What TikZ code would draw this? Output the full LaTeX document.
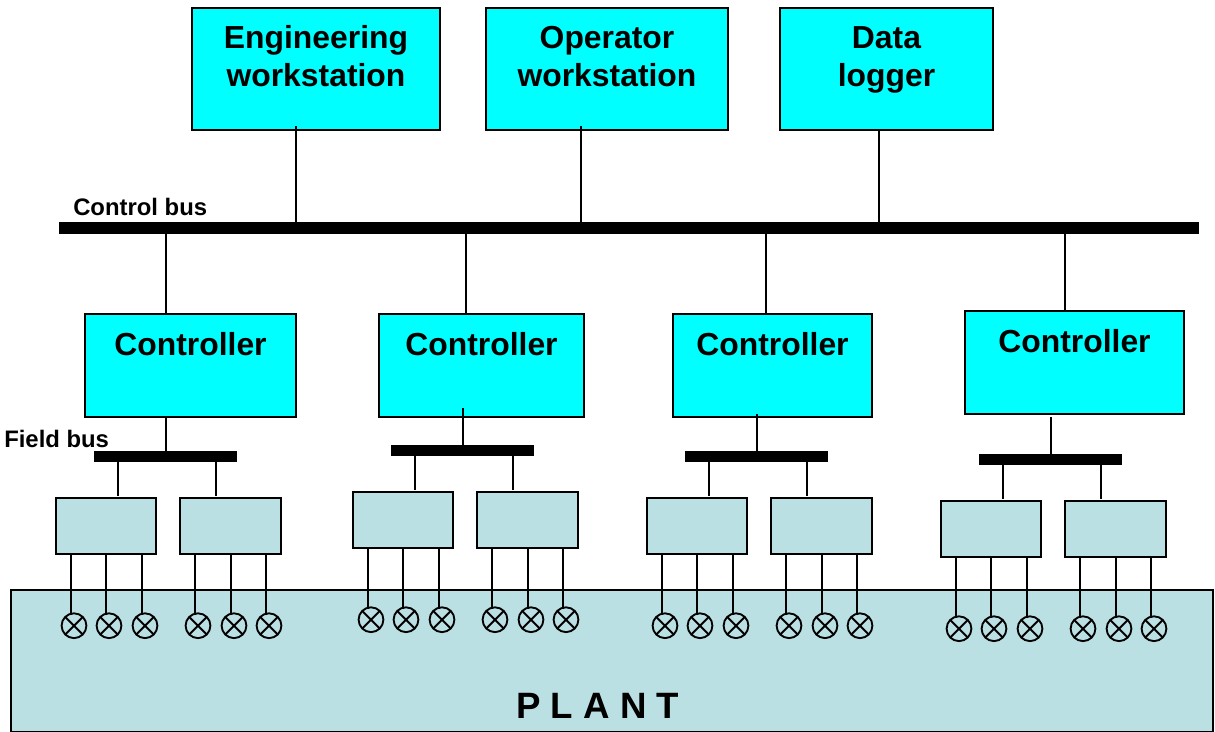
\documentclass[tikz,border=0pt]{standalone}
\usepackage{fontspec}
\setmainfont{Liberation Sans}
\definecolor{hostcyan}{HTML}{00FFFF}
\definecolor{plantblue}{HTML}{BBE0E3}
\newcommand{\boxtext}[4]{\parbox[c][#2][t]{#1}{\centering\rule{0pt}{#3}#4}}
\newcommand{\bigfont}{\fontsize{23.9pt}{28.5pt}\selectfont\bfseries}
\tikzset{
  hostbox/.style={draw=black,line width=1.5pt,fill=hostcyan,inner sep=0pt,minimum height=91.5pt},
  ctlbox/.style={draw=black,line width=1.5pt,fill=hostcyan,inner sep=0pt,minimum height=77.25pt},
  modbox/.style={draw=black,line width=1.5pt,fill=plantblue,inner sep=0pt,minimum width=75.5pt,minimum height=42pt},
  plantbox/.style={draw=black,line width=1.5pt,fill=plantblue,inner sep=0pt,minimum width=901.5pt,minimum height=106.1pt},
  busbar/.style={fill=black,inner sep=0pt,outer sep=0pt},
  wire/.style={draw=black,line width=1.5pt},
  smalllabel/.style={inner sep=0pt,anchor=base west,font=\fontsize{17.9pt}{20pt}\selectfont\bfseries},
  lamp/.style={circle,draw=black,line width=1.4pt,inner sep=0pt,minimum size=18.6pt,
    path picture={\draw[line width=1.4pt] (path picture bounding box.north west) -- (path picture bounding box.south east)
      (path picture bounding box.north east) -- (path picture bounding box.south west);}}
}
\begin{document}
\begin{tikzpicture}[x=0.75pt,y=-0.75pt]
\useasboundingbox (0,0) rectangle (1215,732);
% plant
\node[plantbox] (plant) at (612,660.8) {\hspace*{-21.5pt}\boxtext{300pt}{106.1pt}{96.6pt}{\fontsize{27.5pt}{30pt}\selectfont\bfseries P L A N T}};
% control bus
\node[busbar,minimum width=855pt,minimum height=8.9pt] (bus) at (629,227.6) {};
\node[smalllabel] (cbl) at (73,215.5) {Control bus};
\node[smalllabel] (fbl) at (4,447) {Field bus};
% hosts
\node[hostbox,minimum width=186pt] (h1) at (316,69) {\boxtext{180pt}{91.5pt}{30pt}{\bigfont Engineering\\workstation}};
\node[hostbox,minimum width=181.5pt] (h2) at (607,69) {\boxtext{175pt}{91.5pt}{30pt}{\bigfont Operator\\workstation}};
\node[hostbox,minimum width=159.75pt] (h3) at (886.5,69) {\boxtext{150pt}{91.5pt}{30pt}{\bigfont Data\\logger}};
\coordinate (t1) at (296,126);
\coordinate (t2) at (581,126);
\coordinate (t3) at (879,129);
\foreach \t in {1,2,3} \draw[wire] (t\t) -- (t\t |- bus.north);
% groups: id, group dx, dy, controller centre x, width(pt), centre y, bus tap x, field drop x, field drop top y
\foreach \g/\dx/\dy/\cx/\cw/\cy/\tap/\drop/\dtop in {
  1/0/0/190.5/158.25/365.5/166/166/416,
  2/297/-6/481.5/153.75/365.5/466/463/408,
  3/591/0/772.5/149.25/365.5/766/757/414,
  4/885/3/1074.5/164.25/362.5/1065/1051/417}{
  \node[ctlbox,minimum width=\cw pt] (c\g) at (\cx,\cy) {\boxtext{140pt}{77.25pt}{31.4pt}{\bigfont Controller}};
  \coordinate (bt\g) at (\tap,\cy);
  \draw[wire] (bt\g |- bus.south) -- (bt\g |- c\g.north);
  \node[busbar,minimum width=106.8pt,minimum height=8.6pt] (fb\g) at (165.5+\dx,456.6+\dy) {};
  \coordinate (dt\g) at (\drop,\dtop);
  \draw[wire] (dt\g) -- (dt\g |- fb\g.north);
  \node[modbox] (ma\g) at (105.9+\dx,526.2+\dy) {};
  \node[modbox] (mb\g) at (230.5+\dx,526.2+\dy) {};
  \coordinate (sa\g) at (118+\dx,496+\dy);
  \coordinate (sb\g) at (216+\dx,496+\dy);
  \draw[wire] (sa\g |- fb\g.south) -- (sa\g);
  \draw[wire] (sb\g |- fb\g.south) -- (sb\g);
  \foreach \n/\lx/\m in {1/74/a,2/109/a,3/145/a,4/198/b,5/234/b,6/269/b}{
    \node[lamp] (l\g\n) at (\lx+\dx,625.7+\dy) {};
    \coordinate (w\g\n) at ([xshift=-2.25pt,yshift=-1.9pt]l\g\n.north);
    \draw[wire] (m\m\g.south -| w\g\n) -- (w\g\n);
  }
}
\end{tikzpicture}
\end{document}
